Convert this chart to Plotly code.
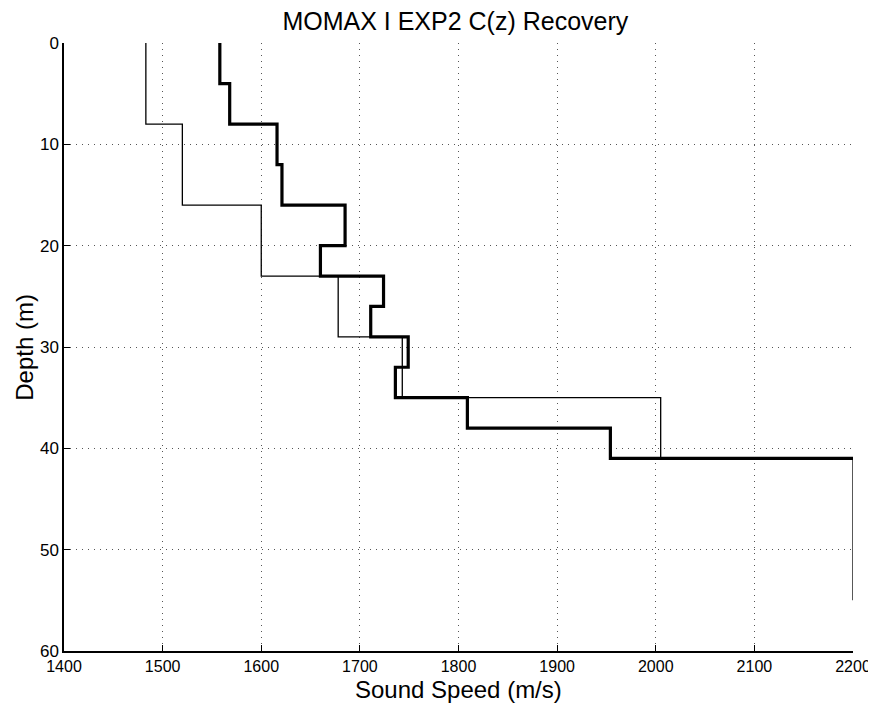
import plotly.graph_objects as go

# thin line: true profile (layer speeds and top depths)
true_speed = [1483, 1520, 1600, 1678, 1743, 2005, 2200]
true_top = [0, 8, 16, 23, 29, 35, 41]
true_bottom = 55

# thick line: recovered profile
est_speed = [1558, 1568, 1616, 1621, 1685, 1660, 1724, 1711, 1749, 1736, 1809, 1954, 2200]
est_top = [0, 4, 8, 12, 16, 20, 23, 26, 29, 32, 35, 38, 41]
est_bottom = 41

font = "Liberation Sans, Arial, sans-serif"

fig = go.Figure()

fig.add_trace(go.Scatter(
    x=true_speed + [true_speed[-1]],
    y=true_top + [true_bottom],
    mode='lines',
    line=dict(color='black', width=1.3, shape='vh'),
    showlegend=False
))

fig.add_trace(go.Scatter(
    x=est_speed + [est_speed[-1]],
    y=est_top + [est_bottom],
    mode='lines',
    line=dict(color='black', width=3.2, shape='vh'),
    showlegend=False
))

# page body has an 8px margin, so the figure is 8px smaller and margins shifted
fig.update_layout(
    width=868,
    height=699,
    margin=dict(l=56, r=23, t=35, b=56, autoexpand=False),
    plot_bgcolor='white',
    paper_bgcolor='white',
    title=dict(text='MOMAX I EXP2 C(z) Recovery', x=0.496, xanchor='center',
               xref='paper', yref='container', y=0.981, yanchor='middle',
               font=dict(family=font, size=25, color='black')),
    font=dict(family=font, color='black'),
    annotations=[
        dict(text='Sound Speed (m/s)', xref='paper', yref='paper', x=0.5, y=-0.063,
             xanchor='center', yanchor='middle', showarrow=False,
             font=dict(family=font, size=24, color='black')),
        dict(text='Depth (m)', xref='paper', yref='paper', x=-0.051, y=0.5,
             xanchor='center', yanchor='middle', showarrow=False, textangle=-90,
             font=dict(family=font, size=24, color='black')),
    ],
)

fig.update_xaxes(
    range=[1400, 2200], dtick=100, tick0=1400,
    showline=True, linecolor='black', linewidth=1.5,
    ticks='inside', ticklen=6, tickcolor='black',
    showgrid=True, gridcolor='#555555', gridwidth=1, griddash='1px,5px',
    zeroline=False, automargin=False,
    tickfont=dict(size=16, family=font),
)

fig.update_yaxes(
    range=[60, 0], dtick=10, tick0=0,
    showline=True, linecolor='black', linewidth=1.5,
    ticks='inside', ticklen=6, tickcolor='black',
    showgrid=True, gridcolor='#555555', gridwidth=1, griddash='1px,5px',
    zeroline=False, automargin=False,
    tickfont=dict(size=17, family=font),
)

fig.write_html("out.html")
